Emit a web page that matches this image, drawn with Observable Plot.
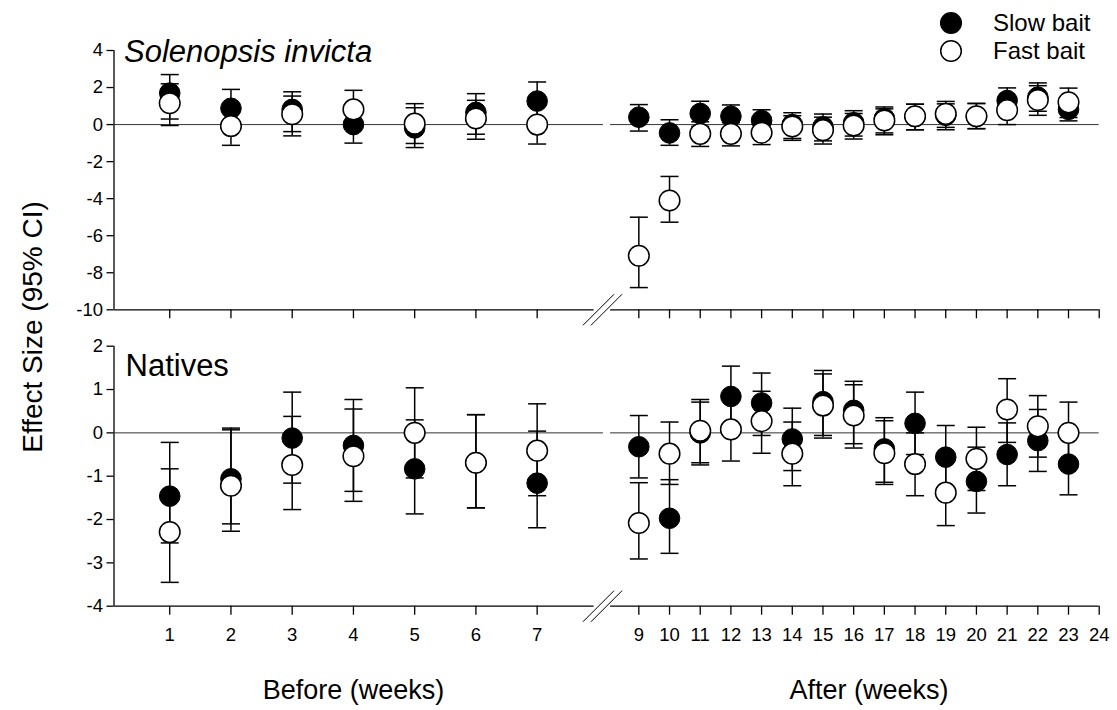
<!DOCTYPE html>
<html>
<head>
<meta charset="utf-8">
<script src="https://cdn.jsdelivr.net/npm/d3@7"></script>
<script src="https://cdn.jsdelivr.net/npm/@observablehq/plot@0.6"></script>
<style>
  body { margin: 0; background: #fff; }
  #chart { position: relative; width: 1117px; height: 710px; font-family: "Liberation Sans", Arial, sans-serif; color: #000; }
  #chart svg.panel { position: absolute; left: 0; }
  #ylabel { position: absolute; left: 33px; top: 327px; transform: translate(-50%, -50%) rotate(-90deg); white-space: nowrap; font-size: 28px; }
  #legend { position: absolute; left: 930px; top: 0; }
</style>
</head>
<body>
<div id="chart">
  <div id="ylabel">Effect Size (95% CI)</div>
</div>
<script>
// Sampling weeks (week 8 is the treatment gap) and tick weeks
const weeks = [1, 2, 3, 4, 5, 6, 7, 9, 10, 11, 12, 13, 14, 15, 16, 17, 18, 19, 20, 21, 22, 23];
const tickWeeks = [1, 2, 3, 4, 5, 6, 7, 9, 10, 11, 12, 13, 14, 15, 16, 17, 18, 19, 20, 21, 22, 23, 24];

// Solenopsis invicta effect sizes with 95% CI
const invSlowMean = [1.70, 0.88, 0.82, 0.00, -0.18, 0.66, 1.27, 0.40, -0.45, 0.60, 0.45, 0.22, 0.00, -0.12, 0.10, 0.33, 0.43, 0.50, 0.43, 1.30, 1.48, 0.82];
const invSlowLo   = [0.30, -0.05, -0.38, -1.00, -1.24, -0.52, 0.22, -0.35, -1.12, -0.10, -0.20, -0.40, -0.75, -0.88, -0.62, -0.45, -0.28, -0.15, -0.22, 0.62, 0.72, 0.20];
const invSlowHi   = [2.70, 1.90, 1.77, 1.00, 0.91, 1.67, 2.30, 1.08, 0.26, 1.26, 1.06, 0.80, 0.64, 0.57, 0.75, 0.95, 1.10, 1.12, 1.14, 1.98, 2.25, 1.45];
const invFastMean = [1.15, -0.08, 0.56, 0.82, 0.05, 0.33, 0.00, -7.08, -4.10, -0.50, -0.50, -0.44, -0.10, -0.30, -0.05, 0.22, 0.45, 0.58, 0.45, 0.78, 1.33, 1.20];
const invFastLo   = [-0.05, -1.12, -0.61, -0.20, -1.02, -0.79, -1.05, -8.80, -5.27, -1.18, -1.15, -1.08, -0.85, -1.05, -0.78, -0.55, -0.28, -0.28, -0.22, 0.00, 0.50, 0.38];
const invFastHi   = [2.20, 0.95, 1.54, 1.85, 1.13, 1.31, 1.05, -5.00, -2.80, 0.15, 0.10, 0.20, 0.48, 0.40, 0.60, 0.85, 1.10, 1.25, 1.14, 1.50, 2.10, 1.97];

// Native ant effect sizes with 95% CI
const natSlowMean = [-1.46, -1.06, -0.12, -0.29, -0.83, -0.69, -1.16, -0.32, -1.97, 0.00, 0.84, 0.69, -0.14, 0.72, 0.52, -0.37, 0.22, -0.56, -1.12, -0.50, -0.18, -0.72];
const natSlowLo   = [-2.54, -2.10, -1.16, -1.35, -1.87, -1.73, -2.19, -1.04, -2.78, -0.69, 0.14, -0.06, -0.87, -0.06, -0.25, -1.14, -0.50, -1.29, -1.85, -1.22, -0.89, -1.43];
const natSlowHi   = [-0.22, 0.11, 0.94, 0.77, 0.30, 0.42, 0.04, 0.40, -1.08, 0.71, 1.54, 1.38, 0.57, 1.44, 1.19, 0.35, 0.94, 0.17, -0.33, 0.23, 0.54, 0.00];
const natFastMean = [-2.29, -1.22, -0.74, -0.54, 0.00, -0.69, -0.41, -2.08, -0.48, 0.05, 0.08, 0.27, -0.48, 0.63, 0.40, -0.47, -0.72, -1.38, -0.60, 0.54, 0.15, 0.00];
const natFastLo   = [-3.45, -2.27, -1.77, -1.58, -1.04, -1.73, -1.45, -2.91, -1.19, -0.74, -0.65, -0.47, -1.22, -0.12, -0.35, -1.19, -1.45, -2.14, -1.33, -0.22, -0.56, -0.71];
const natFastHi   = [-0.83, 0.07, 0.38, 0.55, 1.04, 0.42, 0.67, -1.15, 0.25, 0.77, 0.80, 0.96, 0.25, 1.36, 1.11, 0.28, 0.00, -0.62, 0.13, 1.25, 0.86, 0.71];

const invTicks = [-10, -8, -6, -4, -2, 0, 2, 4];
const natTicks = [-4, -3, -2, -1, 0, 1, 2];
const seriesNames = ["Slow bait", "Fast bait"];

// Layout of the broken week axis: "before" weeks get a wide segment, "after" weeks a narrow one
const W = 1117;
const X_START = 0.09, LEFT_END = 7.93, RIGHT_START = 8.08, X_END = 24;
const X_DOMAIN = [X_START, LEFT_END, RIGHT_START, X_END];
const X_RANGE = [113.5, 593.6, 610.1, 1098.7];
const ZERO_LEFT_END = 8.015;
const BREAK_MARKS = [7.97, 8.043];
const FONT = '"Liberation Sans", Arial, sans-serif';

const rows = (mean, lo, hi) => weeks.map((week, i) => ({week, mean: mean[i], lo: lo[i], hi: hi[i]}));

// Horizontal cap for the error bars, and a diagonal slash for the axis break
const capSymbol = {draw(ctx, size) { const r = Math.sqrt(size / Math.PI); ctx.moveTo(-r, 0); ctx.lineTo(r, 0); }};
const slashSymbol = {draw(ctx, size) { const r = Math.sqrt(size / Math.PI) * Math.SQRT1_2; ctx.moveTo(-r, r); ctx.lineTo(r, -r); }};

function panel({slow, fast, yDomain, yTicks, height, marginTop, marginBottom, title, titleItalic, titleDx, titleDy, labels}) {
  const [y0, y1] = yDomain;
  const both = slow.concat(fast);
  const marks = [
    // axis lines with the break
    Plot.ruleX([X_START], {y1: y0, y2: y1, stroke: "black", strokeWidth: 1.3}),
    Plot.ruleY([y0], {x1: X_START, x2: LEFT_END, stroke: "black", strokeWidth: 1.3}),
    Plot.ruleY([y0], {x1: RIGHT_START, x2: X_END, stroke: "black", strokeWidth: 1.3}),
    Plot.dot(BREAK_MARKS, {x: d => d, y: () => y0, symbol: slashSymbol, r: 22, stroke: "black", strokeWidth: 1, fill: "none"}),
    // zero reference
    Plot.ruleY([0], {x1: X_START, x2: ZERO_LEFT_END, stroke: "#333", strokeWidth: 1}),
    Plot.ruleY([0], {x1: RIGHT_START, x2: X_END, stroke: "#333", strokeWidth: 1}),
    // confidence intervals
    Plot.ruleX(both, {x: "week", y1: "lo", y2: "hi", stroke: "black", strokeWidth: 1.5}),
    Plot.dot(both, {x: "week", y: "lo", symbol: capSymbol, r: 9, stroke: "black", strokeWidth: 1.5, fill: "none"}),
    Plot.dot(both, {x: "week", y: "hi", symbol: capSymbol, r: 9, stroke: "black", strokeWidth: 1.5, fill: "none"}),
    // means
    Plot.dot(slow, {x: "week", y: "mean", r: 10.3, fill: "black", stroke: "black", strokeWidth: 1}),
    Plot.dot(fast, {x: "week", y: "mean", r: 10.3, fill: "white", stroke: "black", strokeWidth: 1.5}),
    // axes
    Plot.axisY({ticks: yTicks, tickSize: 7, tickPadding: 4, label: null, strokeWidth: 1.3, fontSize: 18.5,
                tickFormat: d => String(d)}),
    Plot.axisX({ticks: tickWeeks, tickSize: 9, tickPadding: 13, label: null, strokeWidth: 1.3, fontSize: 18.5,
                tickFormat: labels ? d => String(d) : () => ""}),
    Plot.text([title], {frameAnchor: "top-left", textAnchor: "start", lineAnchor: "bottom", dx: titleDx, dy: titleDy,
                        fontSize: 31, fontStyle: titleItalic ? "italic" : "normal"})
  ];
  if (labels) {
    marks.push(Plot.text(["Before (weeks)", "After (weeks)"], {x: (d, i) => [4, 16.5][i], frameAnchor: "bottom", lineAnchor: "middle", dy: 84, fontSize: 27}));
  }
  return Plot.plot({
    width: W, height, marginTop, marginBottom, marginLeft: 113.5, marginRight: 18.3,
    style: {fontFamily: FONT, fontSize: "18.5px", color: "black", background: "transparent", overflow: "visible"},
    x: {type: "linear", domain: X_DOMAIN, range: X_RANGE},
    y: {domain: yDomain},
    marks
  });
}

const chart = document.getElementById("chart");

const invictaPanel = panel({
  slow: rows(invSlowMean, invSlowLo, invSlowHi), fast: rows(invFastMean, invFastLo, invFastHi),
  yDomain: [-10, 4], yTicks: invTicks, height: 330, marginTop: 50, marginBottom: 20.7,
  title: "Solenopsis invicta", titleItalic: true, titleDx: 10, titleDy: 11, labels: false
});
invictaPanel.classList.add("panel");
invictaPanel.style.top = "0px";
chart.appendChild(invictaPanel);

const nativesPanel = panel({
  slow: rows(natSlowMean, natSlowLo, natSlowHi), fast: rows(natFastMean, natFastLo, natFastHi),
  yDomain: [-4, 2], yTicks: natTicks, height: 380, marginTop: 15.7, marginBottom: 104.3,
  title: "Natives", titleItalic: false, titleDx: 11.5, titleDy: 30, labels: true
});
nativesPanel.classList.add("panel");
nativesPanel.style.top = "330px";
chart.appendChild(nativesPanel);

// Legend
const legend = d3.create("svg").attr("id", "legend").attr("width", 187).attr("height", 70);
const entries = legend.selectAll("g").data(seriesNames).join("g")
  .attr("transform", (d, i) => `translate(0,${23 + i * 28})`);
entries.append("circle").attr("cx", 21).attr("cy", 0).attr("r", 10.3)
  .attr("fill", (d, i) => i === 0 ? "black" : "white").attr("stroke", "black").attr("stroke-width", 1.5);
entries.append("text").attr("x", 63).attr("y", 0).attr("dy", "0.35em")
  .attr("font-family", FONT).attr("font-size", 24).text(d => d);
chart.appendChild(legend.node());
</script>
</body>
</html>
